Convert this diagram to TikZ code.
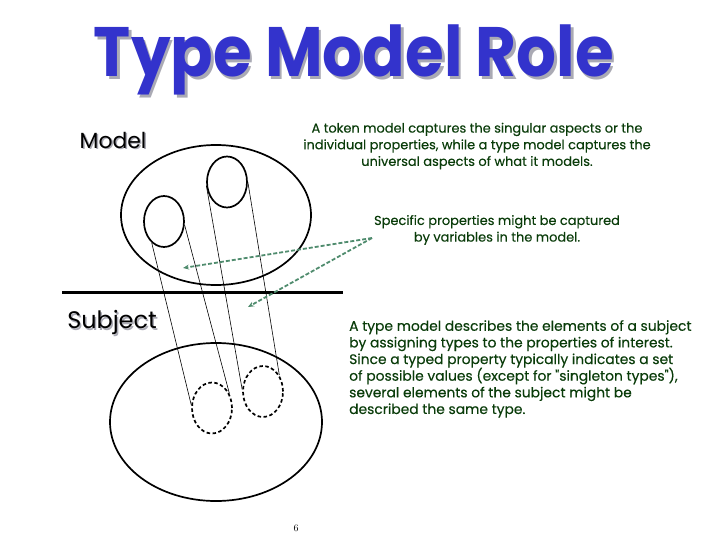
\documentclass[tikz,border=0pt]{standalone}
\usepackage{fontspec}
\newfontfamily\comicfont{Poppins}
\newfontfamily\notefont[FakeBold=0.3]{Poppins}
\usetikzlibrary{shapes.geometric,arrows.meta}
\definecolor{titleblue}{RGB}{51,51,204}
\definecolor{notegreen}{RGB}{10,60,10}
\definecolor{arrowgreen}{RGB}{80,140,110}
\definecolor{shadowgray}{RGB}{170,170,180}
\begin{document}
\begin{tikzpicture}[x=1bp,y=-1bp,
    oval/.style={ellipse,draw,line width=1.7bp,inner sep=0pt},
    small oval/.style={oval,minimum width=40bp,minimum height=51bp},
    tangent/.style={line width=0.6bp},
    note/.style={font=\notefont\fontsize{13}{16.7}\selectfont,text=notegreen,inner sep=0pt},
    label/.style={font=\comicfont\fontsize{22}{22}\selectfont,inner sep=0pt},
    headline/.style={font=\comicfont\bfseries\fontsize{60}{60}\selectfont,inner sep=0pt,anchor=base},
    pointer/.style={draw=arrowgreen,line width=1.8bp,dash pattern=on 4bp off 2bp,
      -{Stealth[length=6bp,width=5bp]}}]
  \useasboundingbox (0,0) rectangle (720,540);
  % title with its shadow
  \node[headline,text=shadowgray] (Tsh) at (356.5,79.5) {\scalebox{1.05}[1.17]{Type Model Role}};
  \node[headline,text=titleblue] (T) at (354,77) {\scalebox{1.05}[1.17]{Type Model Role}};
  % labels
  \node[label,text=shadowgray] (Msh) at (114.5,141.5) {Model};
  \node[label] (M) at (113,140) {Model};
  \node[label,font=\comicfont\fontsize{24}{24}\selectfont,text=shadowgray] (Ssh) at (113.5,324.5) {Subject};
  \node[label,font=\comicfont\fontsize{24}{24}\selectfont] (S) at (112,323) {Subject};
  % model and subject
  \node[oval,minimum width=190bp,minimum height=140bp] (MO) at (216,215) {};
  \node[oval,minimum width=212bp,minimum height=158bp] (SO) at (216,422) {};
  \node[small oval] (M1) at (164,221.5) {};
  \node[small oval] (M2) at (227,182) {};
  \node[small oval,dashed,dash pattern=on 3.5bp off 2.5bp] (S1) at (212,408) {};
  \node[small oval,dashed,dash pattern=on 3.5bp off 2.5bp] (S2) at (263,391.5) {};
  \draw[tangent] (M1.240) -- (S1.172);
  \draw[tangent] (M1.350) -- (S1.40);
  \draw[tangent] (M2.190) -- (S2.175);
  \draw[tangent] (M2.0) -- (S2.45);
  % boundary
  \coordinate (L1) at (62,292);
  \coordinate (L2) at (343,292);
  \draw[line width=3bp] (L1) -- (L2);
  % notes
  \node[note,align=center] (N1) at (477,146) {A token model captures the singular aspects or the\\
    individual properties, while a type model captures the\\
    universal aspects of what it models.};
  \node[note,align=center] (N2) at (497,230) {Specific properties might be captured\\
    by variables in the model.};
  \node[note,font=\notefont\fontsize{13.9}{16.7}\selectfont,align=left,anchor=north west] (N3) at (349,320) {A type model describes the elements of a subject\\
    by assigning types to the properties of interest.\\
    Since a typed property typically indicates a set\\
    of possible values (except for "singleton types"),\\
    several elements of the subject might be\\
    described the same type.};
  % pointers
  \coordinate (P) at (372,238);
  \coordinate (A1) at (183,268);
  \coordinate (A2) at (248,307);
  \draw[pointer] (P) -- (A1);
  \draw[pointer] (P) -- (A2);
  % page number
  \node[font=\fontsize{10}{10}\selectfont,inner sep=0pt] (pg) at (296,528) {6};
\end{tikzpicture}
\end{document}
